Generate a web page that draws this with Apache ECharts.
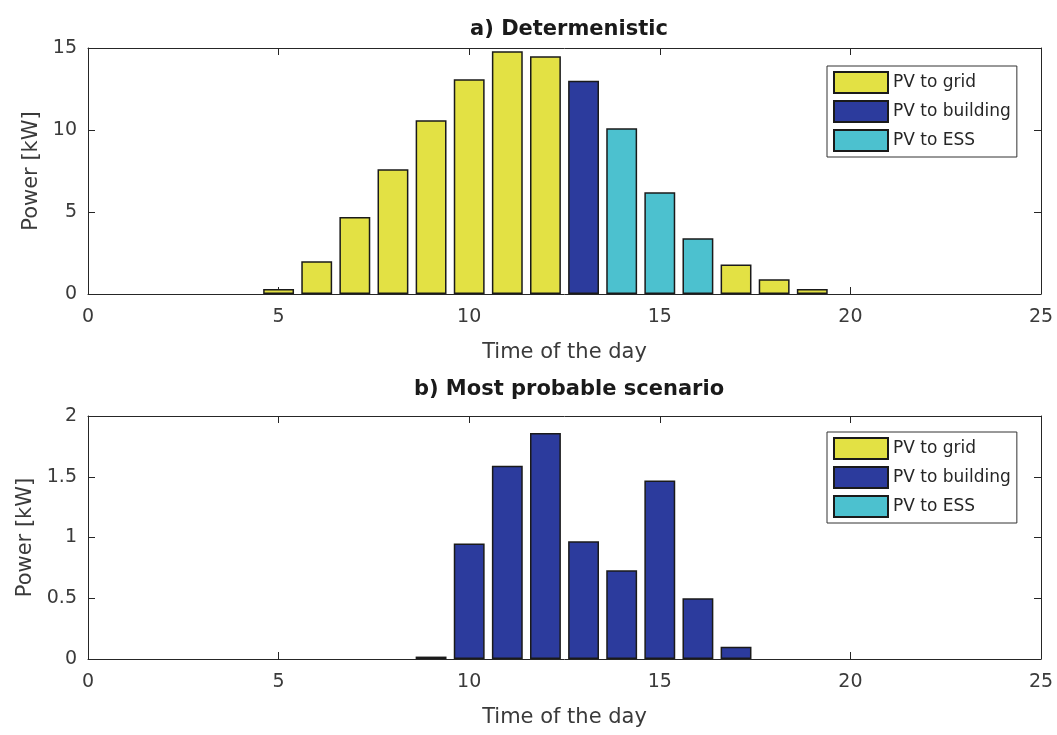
<!DOCTYPE html>
<html>
<head>
<meta charset="utf-8">
<script src="https://cdn.jsdelivr.net/npm/echarts@6/dist/echarts.min.js"></script>
<style>
  html, body { margin: 0; padding: 0; background: #fff; }
  #chart { width: 1057px; height: 735px; }
</style>
</head>
<body>
<div id="chart"></div>
<script>
// a) deterministic case, hours 5..19
const hoursA = [5, 6, 7, 8, 9, 10, 11, 12, 13, 14, 15, 16, 17, 18, 19]
const aToGrid = [0.3, 2.0, 4.7, 7.6, 10.6, 13.1, 14.8, 14.5, 0, 0, 0, 0, 1.8, 0.9, 0.3]
const aToBuilding = [0, 0, 0, 0, 0, 0, 0, 0, 13.0, 0, 0, 0, 0, 0, 0]
const aToEss = [0, 0, 0, 0, 0, 0, 0, 0, 0, 10.1, 6.2, 3.4, 0, 0, 0]

// b) most probable scenario, hours 9..17
const hoursB = [9, 10, 11, 12, 13, 14, 15, 16, 17]
const bToGrid = [0, 0, 0, 0, 0, 0, 0, 0, 0]
const bToBuilding = [0.02, 0.95, 1.59, 1.86, 0.97, 0.73, 1.47, 0.5, 0.1]
const bToEss = [0, 0, 0, 0, 0, 0, 0, 0, 0]

const xTicks = [0, 5, 10, 15, 20, 25]
const yTicksA = [0, 5, 10, 15]
const yTicksB = [0, 0.5, 1, 1.5, 2]

const names = ['PV to grid', 'PV to building', 'PV to ESS']
const colors = ['#e3e144', '#2c3b9d', '#4cc1cf']

const font = 'DejaVu Sans'
const axisColor = '#262626'
const labelColor = '#3a3a3a'

// 把数值和小时配成 [x, y]，零值不画
function pairs (hours, vals) {
  let out = []
  hours.forEach((h, i) => {
    if (vals[i] > 0) out.push([h, vals[i]])
  })
  return out
}

function xAxes (gridIndex) {
  let base = {
    gridIndex: gridIndex,
    type: 'value',
    min: xTicks[0],
    max: xTicks[xTicks.length - 1],
    interval: 5,
    axisLine: { onZero: false, lineStyle: { color: axisColor, width: 1 } },
    axisTick: { inside: true, length: 7, lineStyle: { color: axisColor } },
    splitLine: { show: false }
  }
  return [
    Object.assign({}, base, {
      position: 'bottom',
      name: 'Time of the day',
      nameLocation: 'middle',
      nameGap: 48,
      nameTextStyle: { fontFamily: font, fontSize: 21, color: labelColor },
      axisLabel: { fontFamily: font, fontSize: 19, color: labelColor, margin: 14 }
    }),
    Object.assign({}, base, { position: 'top', axisLabel: { show: false } })
  ]
}

function yAxes (gridIndex, ticks) {
  let base = {
    gridIndex: gridIndex,
    type: 'value',
    min: ticks[0],
    max: ticks[ticks.length - 1],
    interval: ticks[1] - ticks[0],
    axisLine: { show: true, onZero: false, lineStyle: { color: axisColor, width: 1 } },
    axisTick: { show: true, inside: true, length: 7, lineStyle: { color: axisColor } },
    splitLine: { show: false }
  }
  return [
    Object.assign({}, base, {
      position: 'left',
      name: 'Power [kW]',
      nameLocation: 'middle',
      nameGap: 46,
      nameTextStyle: { fontFamily: font, fontSize: 21, color: labelColor },
      axisLabel: { fontFamily: font, fontSize: 19, color: labelColor, margin: 11 }
    }),
    Object.assign({}, base, { position: 'right', axisLabel: { show: false } })
  ]
}

function barSeries (gridNo, hours, valsList) {
  return valsList.map((vals, i) => ({
    name: names[i],
    type: 'bar',
    stack: 'pv' + gridNo,
    xAxisIndex: gridNo * 2,
    yAxisIndex: gridNo * 2,
    barWidth: '81%',
    itemStyle: { color: colors[i], borderColor: '#1a1a1a', borderWidth: 1.5 },
    data: pairs(hours, vals)
  }))
}

function legendAt (gridNo, top) {
  return {
    data: names,
    orient: 'vertical',
    left: 827,
    top: top,
    padding: [5, 6, 5, 6],
    borderColor: '#333',
    borderWidth: 1,
    backgroundColor: '#fff',
    itemWidth: 54,
    itemHeight: 21,
    itemGap: 6,
    icon: 'rect',
    selectedMode: false,
    textStyle: { fontFamily: font, fontSize: 17, color: '#262626' }
  }
}

let chart = echarts.init(document.getElementById('chart'))
let options = {
  animation: false,
  color: colors,
  title: [
    {
      text: 'a) Determenistic',
      left: 564,
      top: 14,
      textAlign: 'center',
      textStyle: { fontFamily: font, fontWeight: 'bold', fontSize: 21, color: '#1a1a1a' }
    },
    {
      text: 'b) Most probable scenario',
      left: 564,
      top: 374,
      textAlign: 'center',
      textStyle: { fontFamily: font, fontWeight: 'bold', fontSize: 21, color: '#1a1a1a' }
    }
  ],
  legend: [legendAt(0, 66), legendAt(1, 432)],
  grid: [
    { left: 88, top: 48, width: 953, height: 246 },
    { left: 88, top: 416, width: 953, height: 243 }
  ],
  xAxis: xAxes(0).concat(xAxes(1)),
  yAxis: yAxes(0, yTicksA).concat(yAxes(1, yTicksB)),
  series: barSeries(0, hoursA, [aToGrid, aToBuilding, aToEss])
    .concat(barSeries(1, hoursB, [bToGrid, bToBuilding, bToEss]))
}
chart.setOption(options)
</script>
</body>
</html>
